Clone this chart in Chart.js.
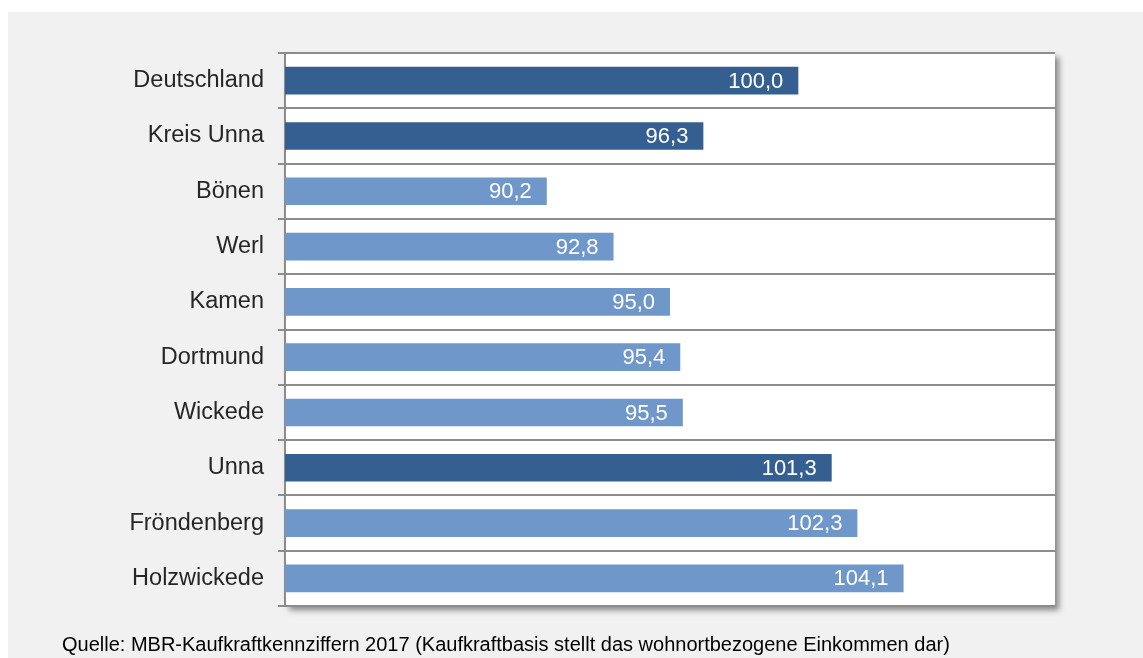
<!DOCTYPE html>
<html lang="de">
<head>
<meta charset="utf-8">
<title>Kaufkraftkennziffern 2017</title>
<script src="https://cdn.jsdelivr.net/npm/chart.js@4/dist/chart.umd.min.js"></script>
<style>
  html, body { margin: 0; padding: 0; background: #ffffff; }
  #wrap { position: relative; width: 1143px; height: 658px; overflow: hidden; }
  #chart { position: absolute; left: 0; top: 0; }
  #quelle {
    position: absolute; left: 62px; top: 633px;
    font: 20px "Liberation Sans", Arial, sans-serif; color: #000;
    white-space: nowrap;
  }
</style>
</head>
<body>
<div id="wrap">
  <canvas id="chart" width="1143" height="658"></canvas>
  <div id="quelle">Quelle: MBR-Kaufkraftkennziffern 2017 (Kaufkraftbasis stellt das wohnortbezogene Einkommen dar)</div>
</div>
<script>
const regions = ["Deutschland", "Kreis Unna", "Bönen", "Werl", "Kamen", "Dortmund", "Wickede", "Unna", "Fröndenberg", "Holzwickede"];
const kaufkraft = [100.0, 96.3, 90.2, 92.8, 95.0, 95.4, 95.5, 101.3, 102.3, 104.1];
const highlighted = ["Deutschland", "Kreis Unna", "Unna"];

const FONT = '"Liberation Sans", Arial, sans-serif';
const DARK = "#365f91";
const LIGHT = "#7097c9";

// grey panel behind everything, white plot area with a soft shadow
const backdrop = {
  id: "backdrop",
  beforeDraw(chart) {
    const { ctx, chartArea: a } = chart;
    ctx.save();
    ctx.fillStyle = "#f1f1f1";
    ctx.fillRect(8, 12, chart.width - 8, chart.height - 12);
    ctx.shadowColor = "rgba(0,0,0,0.45)";
    ctx.shadowBlur = 6;
    ctx.shadowOffsetX = 4;
    ctx.shadowOffsetY = 4;
    ctx.fillStyle = "#ffffff";
    ctx.fillRect(a.left, a.top, a.right - a.left, a.bottom - a.top);
    ctx.restore();
  }
};

// values written inside the end of each bar
const barValues = {
  id: "barValues",
  afterDatasetsDraw(chart) {
    const { ctx } = chart;
    const meta = chart.getDatasetMeta(0);
    ctx.save();
    ctx.font = "22px " + FONT;
    ctx.fillStyle = "#ffffff";
    ctx.textAlign = "right";
    ctx.textBaseline = "middle";
    meta.data.forEach((bar, i) => {
      const txt = kaufkraft[i].toFixed(1).replace(".", ",");
      ctx.fillText(txt, bar.x - 15, bar.y + 1);
    });
    ctx.restore();
  }
};

new Chart(document.getElementById("chart"), {
  type: "bar",
  data: {
    labels: regions,
    datasets: [{
      data: kaufkraft,
      backgroundColor: regions.map(r => highlighted.includes(r) ? DARK : LIGHT),
      barPercentage: 0.5,
      categoryPercentage: 1.0,
      borderWidth: 0
    }]
  },
  options: {
    indexAxis: "y",
    responsive: false,
    animation: false,
    layout: { padding: { top: 53, bottom: 52, right: 88, left: 0 } },
    plugins: {
      legend: { display: false },
      tooltip: { enabled: false }
    },
    scales: {
      x: {
        display: false,
        min: 80,
        max: 110
      },
      y: {
        afterFit(scale) { scale.width = 285; },
        border: { display: true, color: "#8c8c8c", width: 2 },
        grid: {
          color: "#8c8c8c",
          lineWidth: 2,
          tickLength: 7,
          offset: true
        },
        ticks: {
          padding: 14,
          color: "#262626",
          font: { family: FONT, size: 23.5 }
        }
      }
    }
  },
  plugins: [backdrop, barValues]
});
</script>
</body>
</html>
